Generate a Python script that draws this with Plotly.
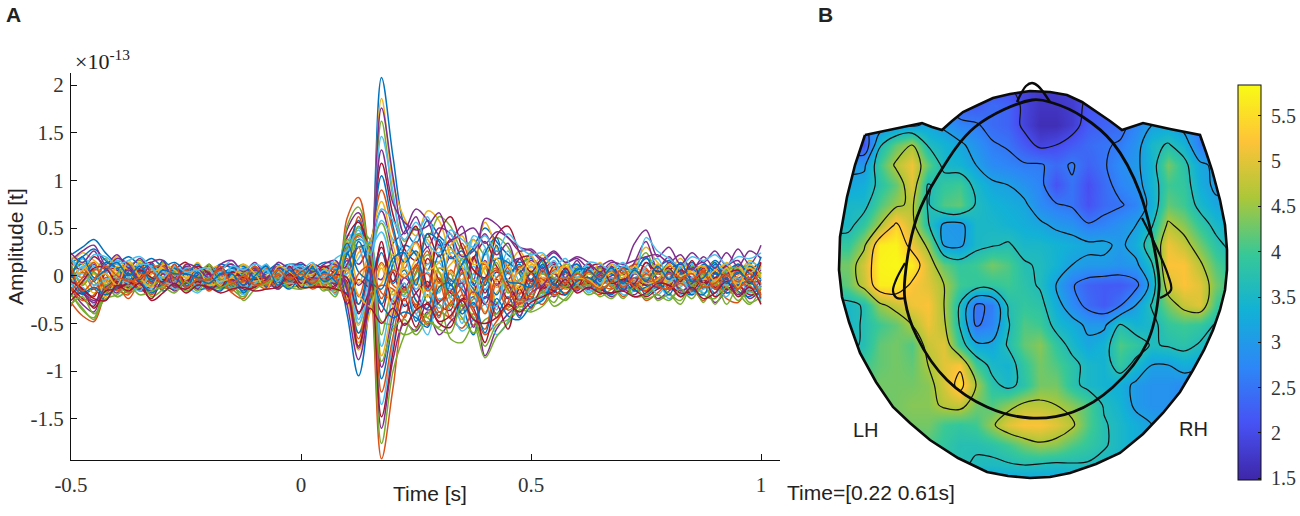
import plotly.graph_objects as go

# Time axis of the butterfly plot [s], one sample every 25 ms
time_s = [-0.5, -0.475, -0.45, -0.425, -0.4, -0.375, -0.35, -0.325, -0.3, -0.275,
          -0.25, -0.225, -0.2, -0.175, -0.15, -0.125, -0.1, -0.075, -0.05, -0.025,
          0.0, 0.025, 0.05, 0.075, 0.1, 0.125, 0.15, 0.175, 0.2, 0.225,
          0.25, 0.275, 0.3, 0.325, 0.35, 0.375, 0.4, 0.425, 0.45, 0.475,
          0.5, 0.525, 0.55, 0.575, 0.6, 0.625, 0.65, 0.675, 0.7, 0.725,
          0.75, 0.775, 0.8, 0.825, 0.85, 0.875, 0.9, 0.925, 0.95, 0.975, 1.0]

# Channel amplitudes in units of 1e-15 T
ch01 = [22,30,38,24,14,20,12,18,10,14,6,10,4,12,8,2,8,4,10,6, 12,8,14,10,-40,-105,-20,208,125,52,34,58,42,30,12,30,50,36,22,14,18, 10,20,6,12,2,8,4,10,6,18,10,16,8,14,4,16,6,12,4,10]
ch02 = [-28,-42,-48,-20,-12,-24,-8,-20,-6,-12,-14,-4,-16,-6,-18,-24,-6,-12,-4,-8, -4,-14,-8,-18,60,82,8,-192,-118,-42,-30,-50,-38,-45,-55,-40,-62,-48,-30,-18,-22, -30,-12,-18,-8,-14,-20,-6,-22,-10,-26,-18,-8,-22,-14,-26,-10,-24,-28,-12,-20]
ch03 = [10,24,16,8,20,4,14,-2,8,-6,12,-4,6,10,-4,6,-6,8,-2,6, 4,10,2,14,-18,-70,-8,186,98,60,42,68,58,22,6,14,56,30,12,26,8, 22,4,-4,10,-8,6,-12,4,12,30,14,6,18,2,12,-4,14,2,16,6]
ch04 = [-14,-30,-38,-10,-18,-4,-16,-12,-2,-16,-8,-12,2,-10,-14,-8,2,-12,-6,0, -6,-2,-14,-12,48,66,14,-160,-88,-50,-58,-38,-62,-48,-36,-22,-84,-56,-40,-30,-14, -8,-22,-10,-16,-4,-12,-22,-14,-20,-8,-24,-16,-6,-20,-10,-28,-16,-8,-24,-14]
ch05 = [4,14,6,18,-4,10,16,6,14,2,-6,4,10,-2,4,12,-4,2,6,-2, 8,0,10,6,-8,-60,-4,162,82,36,50,40,62,52,28,38,22,40,30,8,24, 14,-2,12,6,-6,10,2,-4,8,24,4,12,-2,10,6,14,-4,8,10,2]
ch06 = [-22,-12,-30,-6,-22,-14,0,-18,-10,-4,-10,-18,-6,4,-10,-20,-10,-2,-10,-6, -12,-8,0,-20,34,50,20,-135,-72,-30,-40,-62,-24,-36,-58,-46,-30,-62,-48,-24,-30, -24,-4,-14,-2,-18,-8,-4,-20,-16,-14,-6,-24,-12,-4,-18,-12,-22,-6,-14,-26]
ch07 = [14,6,20,10,6,-8,8,14,-4,6,14,-2,-6,6,12,-6,4,10,-4,2, 2,12,6,-4,10,-40,12,118,64,28,16,44,20,38,-8,18,36,10,-4,18,20, 4,12,-8,2,12,-2,8,2,-6,14,-2,6,12,-4,8,2,10,-2,6,14]
ch08 = [-6,-20,-14,-26,-6,-10,-14,-2,-16,-8,2,-14,-12,-2,-6,-16,-4,-8,-12,4, -10,2,-8,-6,22,38,28,-108,-50,-8,-48,-20,-42,-10,-30,-62,-14,-40,-22,-44,-6, -16,-18,2,-12,-10,-16,-8,-12,-2,-20,-10,-2,-14,-20,-6,-18,-2,-16,-22,-8]
ch09 = [-4,8,-10,4,12,2,-6,8,2,-10,6,8,-2,-4,2,6,-8,6,2,-4, 6,-4,4,8,18,-22,26,90,46,8,36,12,30,-6,34,6,-4,26,8,-8,10, -4,6,10,-6,4,-4,6,-8,2,6,-8,10,2,-8,4,-6,6,-4,8,-2]
ch10 = [12,-8,2,-14,8,-2,-10,4,-8,2,-2,-6,8,-8,2,-4,4,-6,-2,2, -2,4,-10,2,-2,24,34,-84,-32,2,-26,-44,4,-26,-46,-12,-38,-18,-6,-34,-12, 2,-10,-6,4,-12,2,-8,-4,6,-10,4,-6,-8,6,-12,-2,4,-10,-6,2]
ch11 = [6,-2,12,-6,-2,8,4,-8,6,-4,2,-8,2,6,-6,-2,8,0,-6,6, -4,6,-4,2,30,12,36,68,24,-12,10,30,-8,20,6,-18,16,-10,10,18,-6, 8,-8,2,-2,6,-6,0,6,-4,2,8,-4,6,-2,-6,8,-4,2,-2,6]
ch12 = [-10,4,-6,-18,2,-14,6,-4,-12,6,-2,2,-10,-2,-10,4,-2,-10,4,-6, 2,-6,-2,-8,-10,44,38,-62,-16,-20,8,-28,-16,2,-36,-24,8,-28,-14,4,-20, -6,-2,-14,-8,2,-4,-10,-2,-12,-4,-14,2,-4,-12,0,-8,-12,4,-6,-14]
ch13 = [-16,10,-4,12,-10,6,-4,2,10,-2,-8,6,-6,-8,6,0,-2,4,8,-8, 4,-2,6,-4,42,40,30,46,4,-22,-6,12,14,-14,-6,10,-14,6,-10,-4,10, -10,4,8,-4,-8,4,6,-10,4,-6,6,2,-10,6,-2,4,-8,6,4,-10]
ch14 = [-4,-14,-22,6,-6,-12,-2,10,-8,-14,4,-2,-4,8,-2,-10,6,-4,-8,2, -8,6,-4,4,-6,-30,-4,-38,4,-32,-18,-6,-30,-36,8,-8,-30,-4,-24,-12,-4, -14,-6,4,-10,-6,8,-4,-6,-10,-16,-4,-12,6,-10,-4,-12,-8,-2,-16,-4]
ch15 = [0,18,4,-12,-14,4,10,-8,-4,8,-10,-6,6,2,-12,8,2,-6,-2,4, -6,4,-8,6,-14,-60,-28,24,-8,6,-26,-34,8,-4,-14,-30,-2,-20,4,6,-12, 4,-4,-10,8,-2,-6,2,-10,8,-10,6,-8,-4,8,-6,10,2,-8,6,-4]
ch16 = [-32,-8,6,2,-16,-6,-10,-6,4,-12,8,-10,-8,0,-6,-12,-4,8,-4,-6, 6,-8,2,-14,8,62,16,-18,-26,-44,12,-10,-44,6,-18,-52,-6,8,-32,-20,2, -18,2,-6,-6,-10,2,-12,4,-6,4,-12,-6,8,-14,6,-14,-10,6,-10,-18]
ch17 = [18,-4,-18,-6,4,-16,2,6,-12,10,0,6,-8,-4,4,-8,6,-8,4,-10, -2,8,-6,-6,-24,-78,-38,8,-42,18,24,-22,-6,12,22,-6,8,30,-16,-10,6, -8,8,2,-8,6,-10,4,-6,-8,-6,8,-14,4,2,-10,6,-6,10,-2,8]
ch18 = [2,-16,-26,-16,-8,2,-14,-10,6,-6,-4,-14,4,-10,-2,2,-10,-6,10,-2, 8,-10,4,-10,16,-10,2,-4,34,46,70,58,32,36,52,-4,60,54,40,30,26, 16,24,14,18,8,10,16,8,34,48,20,30,12,24,14,26,10,28,12,32]
ch19 = [-18,-36,-44,-10,-22,-14,-4,-22,-14,0,-6,-8,-14,-6,-14,-22,-2,-10,-8,-12, -10,-4,-16,-2,8,52,24,-48,-52,-62,-56,-40,-30,-66,-70,-52,-86,-64,-50,-36,-38, -32,-20,-26,-12,-8,-16,-24,-12,-14,-4,-26,-20,-30,-10,-28,-6,-30,-12,-28,-22]
ch20 = [8,-6,10,2,16,10,-12,-14,-8,-14,-12,2,-2,4,-16,10,-8,-2,2,8, 0,-6,6,8,12,-46,6,58,38,22,-14,4,-18,24,16,-32,28,-36,18,-22,-14, 12,-14,-2,12,-12,-2,-10,10,2,4,-14,8,-20,-2,2,-22,8,-10,-14,-4]
ch21 = [-12,-24,-32,2,-12,8,-8,4,-2,-4,2,-12,12,-6,4,-4,-12,12,-14,-2, -14,10,-12,0,-30,-4,-12,36,-30,-12,-34,18,-4,-18,-26,20,-18,4,-8,-26,4, -12,10,-8,-12,-2,-12,10,-6,-4,-10,2,-2,8,-16,-8,4,-14,-10,6,-12]
ch22 = [14,20,28,16,8,12,6,-4,16,4,8,-10,-2,-14,10,-2,10,-12,6,12, 10,-12,8,-8,24,58,2,-30,12,32,22,-14,22,-22,2,-14,-24,18,14,2,-26, 6,-16,4,-2,10,-10,-2,-14,-10,-2,-6,4,-6,12,-14,12,-2,-14,10,2]
ch23 = [-8,4,-14,-2,-8,-18,12,-2,2,-2,-6,-2,-12,-12,-8,-2,10,-4,-10,-4, 10,-6,-10,6,2,30,-10,14,-10,-16,4,26,-38,-28,-12,2,12,-44,-28,10,-8, -4,-12,-6,-14,-8,-8,-4,4,12,8,-10,-14,-2,-8,10,-4,4,-4,-12,-16]
ch24 = [-2,-10,2,-22,-2,14,-4,12,-2,-12,-4,14,-4,-2,-2,-8,-14,0,0,10, -2,2,-2,12,-2,-52,-18,-8,22,8,-6,-22,8,4,-4,38,2,-12,-4,-16,12, 2,14,-14,-2,-4,14,-6,-8,-4,-14,8,-10,-10,4,-2,-8,-10,0,8,-2]
ch25 = [16,26,32,12,22,8,18,4,12,-2,10,2,-4,8,12,-6,6,-2,8,4, 10,2,8,12,-30,-88,-14,176,104,44,62,30,50,44,20,26,44,22,34,4,16, 8,14,-2,16,-4,2,10,-6,14,36,8,20,4,8,14,-2,10,16,-2,12]
ch26 = [-20,-34,-46,-14,-8,-18,-12,-16,-10,-6,-16,-8,-10,-14,-12,-18,-8,-6,-14,-4, -10,-6,-10,-22,52,72,12,-176,-100,-62,-36,-44,-54,-30,-44,-60,-46,-40,-34,-26,-26, -18,-28,-8,-12,-10,-22,-14,-8,-22,-20,-10,-18,-26,-6,-20,-24,-8,-18,-30,-12]
ch27 = [8,18,10,2,16,-2,12,10,4,-4,8,6,-8,4,16,-2,2,12,-6,6, 10,-4,6,8,-2,-50,-2,146,88,24,40,62,30,44,-12,42,30,-2,26,-6,20, 2,16,-6,4,10,-8,12,6,-2,10,18,-2,8,12,-6,10,4,-6,14,8]
ch28 = [-26,-18,-34,-16,-14,-8,-12,-24,-4,-10,-14,-6,-14,-8,-4,-14,-12,-4,-6,-10, -2,-10,-12,-10,40,56,18,-148,-80,-24,-54,-28,-50,-54,-24,-34,-70,-30,-56,-14,-34, -12,-16,-20,-4,-8,-14,-18,-2,-14,-22,-14,-10,-18,-16,-4,-22,-14,-10,-20,-18]
ch29 = [2,12,-6,14,8,-4,4,12,-6,8,2,12,-4,2,8,10,-2,4,12,-6, 4,10,-2,4,24,-30,18,105,52,14,26,6,38,18,26,-10,24,40,2,12,-4, 16,-6,6,12,-4,4,-6,8,4,20,-4,14,4,-6,12,4,-2,12,2,-6]
ch30 = [-12,-26,-20,-4,-14,-20,2,-8,-14,2,-6,-10,-8,-4,-16,-6,-8,-14,2,-8, 2,-12,-6,-2,28,42,24,-122,-64,-14,-32,-52,-6,-44,-20,-38,-56,-8,-36,-28,-24, -4,-20,-12,-14,-6,-10,-14,-10,-8,-16,-2,-14,-8,-16,-12,-8,-18,-14,-4,-20]
ch31 = [-8,6,14,-8,10,6,-12,2,8,-8,-4,4,6,-10,0,4,-6,10,-8,2, -6,2,8,-8,36,-8,32,78,32,-2,18,38,-12,28,10,-20,10,18,-12,6,14, -6,-8,14,-10,2,6,-4,-2,10,0,12,-8,10,2,-4,6,12,-8,2,10]
ch32 = [4,-18,-28,-12,-4,6,-8,-16,2,-12,-6,0,-14,2,-4,-10,6,-4,-14,0, -4,-2,-4,-8,12,30,30,-96,-40,-2,-18,-36,-28,-16,-8,-54,-22,-30,-10,-42,-18, -10,2,-12,-10,-14,0,-4,-16,2,-6,-12,4,-16,-8,2,-14,-4,-20,-8,-6]
ch33 = [12,-10,4,-10,2,12,-4,-10,-2,4,-12,-2,12,-4,-8,2,4,-8,6,-2, 2,6,-6,0,38,30,34,55,14,-18,2,22,4,-22,18,-4,-10,14,-18,-4,4, 2,-2,-12,4,-10,8,-8,2,6,-2,2,6,-4,-10,2,-10,6,8,-10,4]
ch34 = [-8,2,-10,-4,-2,-8,-16,8,-6,-8,4,-12,0,-6,0,-12,-8,6,-10,-8, -8,8,-8,-4,2,18,36,-74,-24,-8,-40,-14,-34,-22,-50,2,-28,-32,6,-26,-26, -20,-4,-2,-8,-16,-8,-2,-10,-6,-2,-20,-6,-2,-18,-14,-4,-10,-2,-18,-10]
ch35 = [-20,-6,8,8,-8,-10,6,-2,-6,12,-8,10,2,-12,4,-2,-4,-2,-6,10, -8,-2,10,2,-2,-38,-14,30,-6,30,52,-12,44,62,30,6,-2,42,52,24,4, 18,-10,8,-12,8,12,-8,-4,-8,14,4,8,-6,16,-8,-2,2,6,-8,14]
ch36 = [6,-18,-12,-20,-12,2,-6,-18,-8,-2,-12,4,-10,-16,2,-18,-2,-2,-6,-14, -2,-10,4,-6,-18,36,6,-30,-44,-38,-44,-54,-12,-8,-40,-28,-60,-24,-42,-46,-32, -26,-8,-20,-6,-2,-10,-20,-6,-16,-12,-6,-20,2,-14,-20,2,-18,-10,-6,-24]
ch37 = [-16,-2,14,-14,-4,-4,-8,8,10,-4,6,-4,-2,6,-10,-4,10,-10,0,-2, 6,-4,-2,10,-10,-66,-22,-10,-14,-26,-4,2,-26,-16,-32,-16,-40,-2,4,-26,-10, -2,-4,-2,-4,4,-2,6,-12,-2,-4,-8,2,-2,-4,4,-14,0,-6,2,-8]
ch38 = [20,12,-2,2,-10,16,-2,-12,12,6,-2,8,-10,-6,-2,12,2,-14,10,4, -10,12,-14,4,6,-20,-32,12,-20,14,34,6,14,32,42,12,14,-6,10,-14,22, -2,2,10,-2,-4,-12,12,0,4,-8,-4,12,0,6,10,-6,8,-12,12,0]
ch39 = [24,14,26,6,18,12,-4,14,16,-10,12,8,-2,12,16,4,14,-2,14,8, 14,4,12,16,-14,-76,-6,132,76,56,48,52,66,38,44,50,34,46,40,26,28, 18,26,14,20,14,4,14,12,16,20,22,14,22,6,20,8,24,10,26,18]
ch40 = [-30,-22,-40,-24,-20,-10,-20,-16,-12,-18,-6,-16,-2,-12,-8,-26,-14,-8,-2,-12, -14,-10,-4,-16,30,44,26,-90,-56,-46,-62,-48,-56,-60,-30,-44,-74,-52,-46,-32,-36, -16,-32,-24,-10,-20,-14,-10,-24,-12,-24,-20,-26,-14,-24,-8,-30,-12,-26,-16,-28]
ch41 = [18,8,22,20,12,16,20,8,-2,10,4,6,8,-8,10,6,12,6,-6,12, 6,14,-2,18,26,48,22,70,58,38,56,34,24,48,38,30,42,26,44,30,22, 24,10,18,-2,14,12,6,14,2,40,26,18,10,20,16,22,12,20,18,24]
ch42 = [-6,-14,-24,-26,-10,-16,-8,-26,-18,-8,-18,-10,-12,-18,-14,-12,-16,-14,-12,2, -12,-12,-12,-14,-20,-74,-34,-50,-34,-52,-36,-30,-48,-42,-26,-46,-50,-44,-30,-38,-28, -22,-16,-4,-18,-12,-18,-18,-16,-22,-18,-8,-10,-22,-12,-24,-18,-6,-22,-12,-30]
ch43 = [-2,20,-2,6,14,0,10,-6,6,2,2,-2,-8,2,2,-10,0,10,-10,6, -2,8,-6,2,34,4,-6,-14,18,24,-10,44,36,-10,12,28,-10,32,-6,-8,-12, 12,-10,-8,6,6,-4,8,-8,6,-6,10,-4,14,-6,-2,14,-8,4,-4,20]
ch44 = [10,-16,-4,10,0,-6,-2,4,-10,12,-12,-4,-4,10,-8,0,-10,-6,6,-4, 2,-8,2,-2,-26,2,10,-24,6,-2,10,-16,-2,-32,4,-34,-6,6,-14,-30,-18, 6,-14,-8,2,-6,-14,-6,8,-12,2,-10,-14,-4,2,-12,-8,2,-14,-2,-22]
channels = [ch01, ch02, ch03, ch04, ch05, ch06, ch07, ch08, ch09, ch10, ch11, ch12, ch13, ch14, ch15,
            ch16, ch17, ch18, ch19, ch20, ch21, ch22, ch23, ch24, ch25, ch26, ch27, ch28, ch29, ch30,
            ch31, ch32, ch33, ch34, ch35, ch36, ch37, ch38, ch39, ch40, ch41, ch42, ch43, ch44]

# MATLAB default line colours
line_colors = ['#0072BD', '#D95319', '#EDB120', '#7E2F8E', '#77AC30', '#4DBEEE', '#A2142F']

y_ticks = [-150, -100, -50, 0, 50, 100, 150, 200]
y_tick_labels = ['-1.5', '-1', '-0.5', '0', '0.5', '1', '1.5', '2']
x_ticks = [-0.5, 0, 0.5, 1]
x_tick_labels = ['-0.5', '0', '0.5', '1']

# Topography, read on a grid in sensor layout units
topo_x = [832, 848, 864, 880, 896, 912, 928, 944, 960, 976, 992, 1008, 1024,
          1040, 1056, 1072, 1088, 1104, 1120, 1136, 1152, 1168, 1184, 1200, 1216, 1232]
topo_y = [85, 105, 125, 145, 165, 185, 205, 225, 245, 265, 285,
          305, 325, 345, 365, 385, 405, 425, 445, 465, 485]
topo_z = [
    [3,3,3,3,3,3,3,2.4,2.1,2,2,2,1.9,1.8,1.8,1.9,2,2,2.1,2.4,3,3,3,3,3,3],
    [3,3,3,3,3,3,3,2.6,2.2,2.2,2.4,2.3,1.9,1.7,1.7,1.8,2.1,2.2,2.2,2.4,2.8,3,3,3,3,3],
    [2.5,2.5,2.5,2.8,3.0,3.0,3.2,3.0,2.7,2.6,2.4,2.3,1.9,1.6,1.6,1.8,2.2,2.3,2.4,2.7,3.1,3.2,2.9,2.5,2.3,2.3],
    [2.2,2.2,2.1,3.6,4.2,4.6,3.6,3.4,3.2,2.9,2.6,2.5,2.2,1.9,2.0,2.2,2.4,2.5,2.6,2.9,3.5,3.7,3.4,2.6,2.4,2.4],
    [3,3,3,4.0,4.7,5.1,4.2,3.5,3.4,3.1,2.8,2.7,2.6,2.6,2.4,2.6,2.3,2.5,2.8,3.0,3.4,4.3,3.8,3.2,3,3],
    [3.2,3.2,3.3,3.8,4.2,5.0,3.6,3.9,4.0,3.5,3.2,3.1,2.9,2.7,2.1,2.5,2.05,2.4,2.7,2.9,3.4,4.0,3.9,3.3,3.0,3.0],
    [3.5,3.5,3.5,4.1,4.5,4.7,3.6,4.1,4.2,3.6,3.4,3.3,3.2,2.8,2.6,2.5,2.1,2.4,2.5,2.7,3.3,4.2,4.0,3.5,3.2,3.2],
    [3.5,3.5,3.9,4.6,5.4,4.8,3.7,3.0,2.95,3.5,3.5,3.4,3.3,3.2,3.0,2.9,2.6,2.7,2.9,3.1,3.6,4.7,4.4,3.9,3.5,3.3],
    [3.9,3.9,4.5,5.7,5.75,5.1,4.5,3.05,3.0,3.5,3.6,3.7,3.5,3.5,3.4,3.3,3.2,3.2,3.0,3.3,4.0,5.1,4.8,4.3,3.8,3.5],
    [4.3,4.3,4.9,5.75,5.8,5.7,4.9,4.2,3.9,4.0,4.3,4.1,3.7,3.6,3.4,3.1,3.0,3.0,2.9,3.0,3.6,5.2,5.2,4.7,4.1,3.8],
    [4.0,4.2,4.8,5.7,5.7,5.2,5.0,4.6,4.0,3.9,3.9,4.0,3.8,3.6,3.1,2.6,2.3,2.2,2.2,2.4,3.3,4.9,5.2,5.0,4.3,3.9],
    [3.5,3.5,3.7,4.5,4.8,5.1,5.2,4.6,3.6,2.5,2.6,3.7,3.9,3.8,3.3,2.8,2.4,2.2,2.5,3.1,3.7,4.3,4.8,5.0,4.0,3.6],
    [3.4,3.5,3.7,4.0,4.2,4.6,5.1,4.7,3.6,2.5,2.7,3.6,4.1,4.0,3.5,3.3,3.0,3.0,3.7,3.4,3.5,3.9,4.0,3.9,3.6,3.4],
    [3.5,3.55,3.7,4.2,4.3,4.1,4.8,5.0,3.9,3.2,3.2,3.7,4.2,4.4,3.9,3.5,3.2,3.4,4.1,3.9,3.6,3.7,3.8,3.6,3.4,3.2],
    [3.7,3.8,4.0,4.2,4.3,4.2,4.6,5.0,5.2,4.0,3.5,3.4,3.9,4.3,4.1,3.8,3.5,3.4,3.9,3.5,3.1,3.1,3.3,3.2,3.1,3.0],
    [3.8,3.9,4.1,4.3,4.3,4.3,4.4,4.9,5.5,4.6,3.8,3.5,3.8,4.3,4.3,3.8,3.5,3.4,3.3,3.0,2.9,2.9,2.8,2.6,2.6,2.6],
    [4,4,4.1,4.2,4.3,4.4,4.4,4.7,4.8,4.3,4.1,4.4,4.7,4.7,4.6,4.4,4.1,3.6,3.4,3.0,2.9,2.9,2.7,2.6,2.6,2.6],
    [4.3,4.3,4.3,4.3,4.3,4.3,4.3,4.0,3.9,4.0,4.5,5.0,5.2,5.2,5.0,4.7,4.1,3.7,3.5,3.3,3.1,3,3,3,3,3],
    [4.0,4.0,4.0,4.0,4.0,4.0,4.1,3.9,3.7,3.7,3.8,4.0,4.3,4.5,4.4,4.1,3.9,3.7,3.5,3.3,3.1,3,3,3,3,3],
    [3.8,3.8,3.8,3.8,3.8,3.8,3.8,3.8,3.7,3.6,3.55,3.6,3.65,3.6,3.55,3.6,3.6,3.5,3.4,3.2,3,3,3,3,3,3],
    [3,3,3,3,3,3,3,3,3,3,3,3,3,3,3,3,3,3,3,3,3,3,3,3,3,3],
]
low_levels = dict(start=2.0, end=3.65, size=0.55)
high_levels = dict(start=4.6, end=5.3, size=0.7)

# Sensor outline and head model in the same layout units
outline_x = [865, 893, 915, 922, 932, 942, 952, 963, 978, 993, 1010, 1030, 1050, 1067, 1082, 1097, 1110, 1122, 1133,
             1143, 1170, 1200, 1206, 1212, 1220, 1225, 1227, 1227, 1225, 1220, 1213, 1204, 1193, 1180, 1163, 1143,
             1120, 1096, 1070, 1050, 1030, 1008, 987, 958, 930, 910, 893, 876, 860, 849, 842, 839, 840, 847, 855, 865]
outline_y = [135, 129, 124, 123, 127, 130, 121, 112, 105, 98, 94, 91, 92, 95, 102, 112, 121, 130, 126,
             123, 129, 135, 152, 170, 200, 225, 250, 270, 290, 310, 330, 350, 370, 392, 413, 434,
             453, 464, 473, 477, 478, 476, 472, 458, 440, 423, 407, 382, 353, 322, 297, 270, 237, 197, 165, 135]
head_x = [1032, 1053, 1083, 1113, 1140, 1158, 1159, 1147, 1113, 1073, 1030, 987, 947, 917, 905, 905, 917, 937, 975, 1032]
head_y = [100, 103, 117, 143, 193, 270, 290, 343, 387, 412, 418, 407, 380, 337, 300, 277, 217, 177, 127, 100]
nose_x = [1017, 1026, 1032, 1038, 1050]
nose_y = [102, 86, 83, 86, 102]
ear_left_x = [905, 896, 893, 897, 905]
ear_left_y = [263, 280, 291, 298, 298]
ear_right_x = [1142, 1153, 1168, 1171, 1160]
ear_right_y = [218, 240, 275, 290, 298]

# Extent of the white mask around the head
mask_x = [820, 820, 1240, 1240, 820]
mask_y = [70, 495, 495, 70, 70]

parula = [[0.0, '#3E26A8'], [0.143, '#4752F4'], [0.286, '#2D87F7'], [0.429, '#12B1D6'],
          [0.571, '#37C897'], [0.714, '#ABC739'], [0.857, '#FEC338'], [1.0, '#F9FB15']]
cbar_ticks = [1.5, 2, 2.5, 3, 3.5, 4, 4.5, 5, 5.5]
cbar_labels = ['\u00a01.5', '\u00a02', '\u00a02.5', '\u00a03', '\u00a03.5', '\u00a04', '\u00a04.5', '\u00a05', '\u00a05.5']

SERIF = 'Liberation Serif'
SANS = 'Liberation Sans'
W, H = 1300, 516


def px_x(v):
    return v / W


def px_y(v):
    return 1 - v / H


fig = go.Figure()

# Panel A: butterfly plot
for i, ch in enumerate(channels):
    fig.add_trace(go.Scatter(
        x=time_s, y=ch, mode='lines', xaxis='x', yaxis='y',
        line=dict(color=line_colors[i % len(line_colors)], width=1.5, shape='spline', smoothing=1.0),
        showlegend=False, hoverinfo='skip', cliponaxis=False
    ))

# Panel B: topography
fig.add_trace(go.Heatmap(
    x=topo_x, y=topo_y, z=topo_z, xaxis='x2', yaxis='y2', zsmooth='best',
    colorscale=parula, zmin=1.48, zmax=5.84,
    colorbar=dict(
        x=px_x(1238), xanchor='left', xpad=0, y=px_y(85), yanchor='top', ypad=0,
        len=395 / H, lenmode='fraction', thickness=23, thicknessmode='pixels',
        outlinecolor='#111', outlinewidth=1, ticks='inside', ticklen=3, tickcolor='#111',
        tickvals=cbar_ticks, ticktext=cbar_labels,
        tickfont=dict(family=SERIF, size=20, color='#333')
    )
))
for levels in [low_levels, high_levels]:
    fig.add_trace(go.Contour(
        x=topo_x, y=topo_y, z=topo_z, xaxis='x2', yaxis='y2', showscale=False,
        contours=dict(coloring='none', **levels),
        line=dict(color='#111', width=1.2, smoothing=1.0), hoverinfo='skip'
    ))
fig.add_trace(go.Scatter(
    x=mask_x + [None] + outline_x, y=mask_y + [None] + outline_y, mode='none', fill='toself',
    fillcolor='white', xaxis='x2', yaxis='y2', showlegend=False, hoverinfo='skip'
))
for xs, ys, width, shape in [(outline_x, outline_y, 2.6, 'linear'), (head_x, head_y, 2.8, 'spline'),
                             (nose_x, nose_y, 2.4, 'spline'), (ear_left_x, ear_left_y, 2.2, 'spline'),
                             (ear_right_x, ear_right_y, 2.2, 'spline')]:
    fig.add_trace(go.Scatter(
        x=xs, y=ys, mode='lines', xaxis='x2', yaxis='y2', cliponaxis=False,
        line=dict(color='#0a0a0a', width=width, shape=shape),
        showlegend=False, hoverinfo='skip'
    ))

fig.update_layout(
    width=W, height=H, margin=dict(l=0, r=0, t=0, b=0, autoexpand=False),
    paper_bgcolor='white', plot_bgcolor='white',
    xaxis=dict(domain=[px_x(71), px_x(780)], range=[-0.5, 1.0413], showgrid=False, zeroline=False,
               showline=True, linecolor='#111', linewidth=1.3, ticks='inside', ticklen=6, tickcolor='#111',
               tickvals=x_ticks, ticktext=x_tick_labels, ticklabelstandoff=6,
               tickfont=dict(family=SERIF, size=21, color='#333')),
    yaxis=dict(domain=[px_y(460), px_y(73)], range=[-193.3, 212.7], showgrid=False, zeroline=False,
               showline=True, linecolor='#111', linewidth=1.3, ticks='inside', ticklen=6, tickcolor='#111',
               tickvals=y_ticks, ticktext=y_tick_labels, ticklabelstandoff=2,
               tickfont=dict(family=SERIF, size=21, color='#333')),
    xaxis2=dict(domain=[px_x(825), px_x(1235)], range=[825, 1235], visible=False, anchor='y2'),
    yaxis2=dict(domain=[px_y(490), px_y(80)], range=[490, 80], visible=False, anchor='x2'),
)

# Text labels, placed in page pixels
labels = [
    ('<b>A</b>', 13, 14, 21, SANS, 0),
    ('<b>B</b>', 825, 14, 21, SANS, 0),
    ('×10<sup>-13</sup>', 102, 60, 22, SERIF, 0),
    ('Amplitude [t]', 16, 247, 21, SANS, -90),
    ('Time [s]', 430, 493, 21, SANS, 0),
    ('Time=[0.22 0.61s]', 871, 492, 21, SANS, 0),
    ('LH', 866, 430, 20, SANS, 0),
    ('RH', 1193, 429, 20, SANS, 0),
]
for text, x, y, size, family, angle in labels:
    fig.add_annotation(
        text=text, x=px_x(x), y=px_y(y), xref='paper', yref='paper', showarrow=False,
        xanchor='center', yanchor='middle', textangle=angle,
        font=dict(family=family, size=size, color='#222')
    )

# Drop the page margin so the figure sits at the window corner
fig.write_html("out.html", config=dict(displayModeBar=False), post_script="document.body.style.margin='0';")
